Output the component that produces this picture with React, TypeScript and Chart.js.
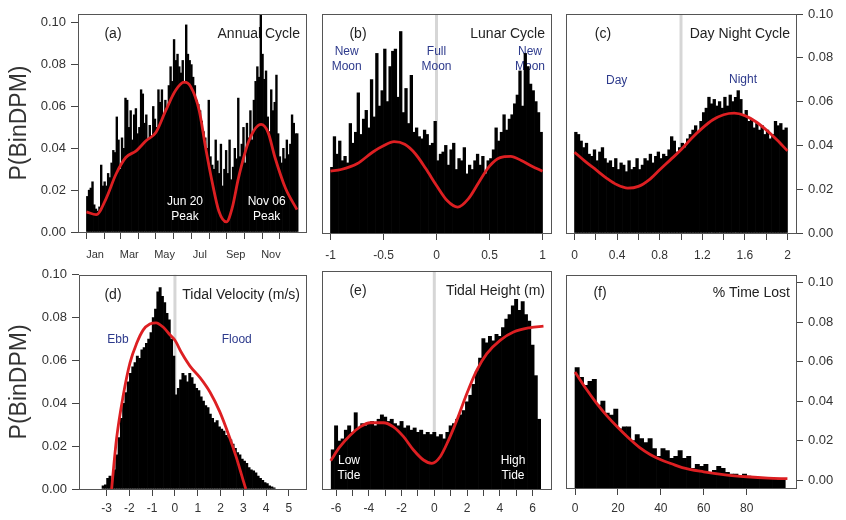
import React, { useEffect, useRef } from "react";
import { Chart, registerables } from "chart.js";

Chart.register(...registerables);

const FONT = "'Liberation Sans', Arial, Helvetica, sans-serif";
const TEXT = "#333333";
const TITLE = "#222222";
const AXIS = "#444444";
const BOX = "#555555";
const RED = "#dd1f22";
const NAVY = "#2d3a8c";
const VLINE = "#d6d6d6";

// ---------- shared y axis ----------
const Y_TICKS = [0, 0.02, 0.04, 0.06, 0.08, 0.1];
const Y_TICK_LABELS = ["0.00", "0.02", "0.04", "0.06", "0.08", "0.10"];

// ---------- (a) Annual cycle (3-day bins, day of year) ----------
const A_BIN_START = 0;
const A_BIN_WIDTH = 3;
const A_BARS = [
  0.017, 0.020, 0.021, 0.024, 0.013, 0.011, 0.010, 0.012, 0.032, 0.022,
  0.024, 0.022, 0.028, 0.026, 0.033, 0.039, 0.038, 0.055, 0.044, 0.030,
  0.045, 0.040, 0.064, 0.063, 0.050, 0.058, 0.044, 0.056, 0.059, 0.047,
  0.050, 0.068, 0.066, 0.052, 0.056, 0.044, 0.051, 0.046, 0.060, 0.054,
  0.050, 0.068, 0.062, 0.068, 0.056, 0.063, 0.060, 0.070, 0.079, 0.072,
  0.092, 0.082, 0.085, 0.079, 0.076, 0.082, 0.071, 0.099, 0.085, 0.082,
  0.080, 0.074, 0.070, 0.063, 0.061, 0.058, 0.053, 0.048, 0.045, 0.040,
  0.063, 0.036, 0.032, 0.030, 0.044, 0.034, 0.028, 0.042, 0.022, 0.030,
  0.039, 0.028, 0.044, 0.025, 0.031, 0.040, 0.035, 0.064, 0.036, 0.042,
  0.050, 0.033, 0.052, 0.045, 0.058, 0.044, 0.063, 0.072, 0.079, 0.074,
  0.104, 0.085, 0.073, 0.077, 0.055, 0.048, 0.068, 0.058, 0.062, 0.075,
  0.047, 0.036, 0.033, 0.040, 0.035, 0.044, 0.037, 0.042, 0.056, 0.052,
  0.047, 0.047,
];
const A_CURVE_X = [0, 17, 34, 51, 68, 86, 103, 120, 137, 154, 169, 180, 195, 206, 217, 229, 242, 252, 263, 281, 302, 314, 326, 344, 364];
const A_CURVE_Y = [0.0096, 0.0083, 0.016, 0.0276, 0.0356, 0.0388, 0.0436, 0.0476, 0.058, 0.0676, 0.0716, 0.0696, 0.058, 0.0404, 0.0244, 0.0099, 0.0048, 0.0115, 0.026, 0.0436, 0.0514, 0.0476, 0.0356, 0.021, 0.0107];
const A_X_TICKS = [0, 31, 59, 90, 120, 151, 181, 212, 243, 273, 304, 334];
const A_X_LABEL_AT = [15, 74, 135, 196, 258, 319];
const A_X_LABELS = ["Jan", "Mar", "May", "Jul", "Sep", "Nov"];

// ---------- (b) Lunar cycle ----------
const B_BIN_START = -1;
const B_BIN_WIDTH = 0.025;
const B_BARS = [
  0.030, 0.044, 0.036, 0.042, 0.033, 0.035, 0.032, 0.050, 0.041, 0.046,
  0.064, 0.045, 0.052, 0.056, 0.048, 0.070, 0.053, 0.082, 0.058, 0.065,
  0.084, 0.060, 0.076, 0.083, 0.084, 0.062, 0.092, 0.055, 0.066, 0.050,
  0.072, 0.046, 0.048, 0.044, 0.043, 0.047, 0.045, 0.040, 0.041, 0.051,
  0.033, 0.036, 0.037, 0.040, 0.031, 0.038, 0.041, 0.029, 0.034, 0.033,
  0.039, 0.027, 0.031, 0.029, 0.033, 0.036, 0.031, 0.035, 0.027, 0.033,
  0.034, 0.038, 0.048, 0.042, 0.046, 0.054, 0.047, 0.052, 0.054, 0.059,
  0.063, 0.074, 0.058, 0.082, 0.076, 0.068, 0.065, 0.060, 0.055, 0.046,
];
const B_CURVE_X = [-1, -0.9, -0.75, -0.6, -0.5, -0.4, -0.3, -0.2, -0.1, 0, 0.1, 0.2, 0.3, 0.4, 0.5, 0.6, 0.7, 0.8, 0.9, 1];
const B_CURVE_Y = [0.0282, 0.029, 0.0316, 0.037, 0.0398, 0.0417, 0.0405, 0.0362, 0.0293, 0.0217, 0.0148, 0.0118, 0.0156, 0.0232, 0.0305, 0.0344, 0.035, 0.0331, 0.0305, 0.0282];
const B_X_TICKS = [-1, -0.5, 0, 0.5, 1];
const B_X_LABELS = ["-1", "-0.5", "0", "0.5", "1"];

// ---------- (c) Day night cycle ----------
const C_BIN_START = 0;
const C_BIN_WIDTH = 0.025;
const C_BARS = [
  0.046, 0.045, 0.042, 0.039, 0.041, 0.036, 0.035, 0.038, 0.033, 0.037,
  0.039, 0.034, 0.032, 0.033, 0.030, 0.034, 0.029, 0.032, 0.031, 0.028,
  0.033, 0.029, 0.030, 0.034, 0.029, 0.031, 0.034, 0.033, 0.036, 0.032,
  0.035, 0.037, 0.034, 0.036, 0.035, 0.038, 0.044, 0.042, 0.037, 0.039,
  0.041, 0.039, 0.043, 0.045, 0.047, 0.049, 0.046, 0.051, 0.055, 0.057,
  0.062, 0.059, 0.061, 0.058, 0.060, 0.057, 0.062, 0.058, 0.063, 0.060,
  0.062, 0.065, 0.061, 0.054, 0.056, 0.051, 0.052, 0.048, 0.050, 0.047,
  0.049, 0.045, 0.047, 0.043, 0.045, 0.051, 0.049, 0.050, 0.047, 0.048,
];
const C_CURVE_X = [0, 0.1, 0.2, 0.3, 0.4, 0.5, 0.6, 0.7, 0.8, 0.9, 1.0, 1.1, 1.2, 1.3, 1.4, 1.5, 1.6, 1.7, 1.8, 1.9, 2.0];
const C_CURVE_Y = [0.0369, 0.0327, 0.0289, 0.0251, 0.022, 0.0205, 0.0213, 0.0243, 0.0289, 0.0334, 0.038, 0.0433, 0.0479, 0.0517, 0.054, 0.0547, 0.0536, 0.0509, 0.0471, 0.0426, 0.0375];
const C_X_TICKS = [0, 0.2, 0.4, 0.6, 0.8, 1.0, 1.2, 1.4, 1.6, 1.8, 2.0];
const C_X_LABELS = ["0", "", "0.4", "", "0.8", "", "1.2", "", "1.6", "", "2"];

// ---------- (d) Tidal velocity ----------
const D_BIN_START = -3.2;
const D_BIN_WIDTH = 0.1;
const D_BARS = [
  0.0015, 0.002, 0.005, 0.006, 0.004, 0.009, 0.016, 0.024, 0.033, 0.040,
  0.045, 0.050, 0.054, 0.057, 0.059, 0.062, 0.061, 0.065, 0.066, 0.068,
  0.070, 0.073, 0.080, 0.084, 0.092, 0.094, 0.090, 0.087, 0.082, 0.079,
  0.070, 0.062, 0.044, 0.047, 0.051, 0.054, 0.053, 0.050, 0.054, 0.052,
  0.049, 0.047, 0.046, 0.043, 0.041, 0.039, 0.038, 0.035, 0.033, 0.031,
  0.032, 0.029, 0.028, 0.027, 0.025, 0.024, 0.023, 0.021, 0.019, 0.017,
  0.016, 0.014, 0.013, 0.012, 0.010, 0.009, 0.0085, 0.0075, 0.006, 0.005,
  0.004, 0.003, 0.0025, 0.0015, 0.001, 0.0005,
];
const D_CURVE_X = [-2.78, -2.56, -2.27, -1.97, -1.68, -1.39, -1.1, -0.83, -0.51, -0.22, 0, 0.29, 0.66, 1.1, 1.54, 1.97, 2.41, 2.7, 3.0, 3.11];
const D_CURVE_Y = [0, 0.0237, 0.0436, 0.059, 0.068, 0.0743, 0.077, 0.0776, 0.0755, 0.072, 0.0694, 0.0636, 0.0574, 0.052, 0.0452, 0.036, 0.0237, 0.0145, 0.0038, 0];
const D_X_TICKS = [-3, -2, -1, 0, 1, 2, 3, 4, 5];
const D_X_LABELS = ["-3", "-2", "-1", "0", "1", "2", "3", "4", "5"];

// ---------- (e) Tidal height ----------
const E_BIN_START = -6.3;
const E_BIN_WIDTH = 0.2;
const E_BARS = [
  0.018, 0.029, 0.022, 0.023, 0.027, 0.029, 0.026, 0.035, 0.028, 0.030,
  0.029, 0.030, 0.031, 0.029, 0.032, 0.034, 0.033, 0.031, 0.032, 0.030,
  0.029, 0.031, 0.028, 0.029, 0.027, 0.028, 0.026, 0.027, 0.025, 0.026,
  0.025, 0.026, 0.024, 0.025, 0.023, 0.026, 0.029, 0.030, 0.032, 0.034,
  0.036, 0.040, 0.043, 0.048, 0.054, 0.060, 0.069, 0.067, 0.070, 0.068,
  0.071, 0.070, 0.074, 0.078, 0.080, 0.084, 0.087, 0.082, 0.086, 0.080,
  0.077, 0.066, 0.052, 0.032,
];
const E_CURVE_X = [-6.33, -5.76, -5.14, -4.53, -3.92, -3.1, -2.5, -1.88, -1.27, -0.66, -0.15, 0.36, 0.87, 1.38, 1.99, 2.6, 3.21, 4.02, 4.84, 5.86, 6.67];
const E_CURVE_Y = [0.013, 0.0194, 0.0247, 0.0285, 0.0304, 0.0304, 0.0285, 0.024, 0.0179, 0.0133, 0.0118, 0.0148, 0.0224, 0.0316, 0.0438, 0.0545, 0.0621, 0.0682, 0.072, 0.074, 0.0747];
const E_X_TICKS = [-6, -5, -4, -3, -2, -1, 0, 1, 2, 3, 4, 5, 6];
const E_X_LABELS = ["-6", "", "-4", "", "-2", "", "0", "", "2", "", "4", "", "6"];

// ---------- (f) % time lost ----------
const F_BIN_START = 0;
const F_BIN_WIDTH = 2;
const F_BARS = [
  0.057, 0.052, 0.048, 0.050, 0.051, 0.038, 0.040, 0.034, 0.033, 0.036,
  0.026, 0.027, 0.027, 0.020, 0.023, 0.021, 0.019, 0.021, 0.016, 0.012,
  0.016, 0.015, 0.011, 0.012, 0.015, 0.011, 0.012, 0.006, 0.008, 0.007,
  0.008, 0.004, 0.005, 0.007, 0.006, 0.004, 0.003, 0.003, 0.002, 0.003,
  0.002, 0.001, 0.0012, 0.0008, 0.0006, 0.0008, 0.0004, 0.0003, 0.0002,
];
const F_CURVE_X = [0, 5, 10, 15, 20, 25, 30, 35, 40, 45, 50, 60, 70, 80, 90, 99];
const F_CURVE_Y = [0.0548, 0.0465, 0.039, 0.0324, 0.0266, 0.0213, 0.0166, 0.013, 0.0103, 0.0083, 0.0063, 0.0042, 0.0027, 0.0017, 0.001, 0.0007];
const F_X_TICKS = [0, 20, 40, 60, 80];
const F_X_LABELS = ["0", "20", "40", "60", "80"];

type Note = { lines: string[]; x: number; y: number; color: string; front?: boolean };

type PanelSpec = {
  key: string;
  left: number; top: number; w: number; h: number;
  padding: { left: number; top: number; right: number; bottom: number };
  yAxis: "left" | "right" | "none";
  yAxisWidth: number;
  yTitle?: string;
  yMin: number; yMax: number;
  xMin: number; xMax: number;
  xTicks: number[]; xTickLabels: string[];
  xLabelAt?: number[]; xLabelText?: string[];
  xAxisHeight: number; xLabelPad: number; xFontSize: number;
  binStart: number; binWidth: number; bars: number[];
  curveX: number[]; curveY: number[];
  vline?: number;
  tag: string; tagDx: number; title: string; titleDy: number;
  notes: Note[];
};

function drawNotes(ctx: CanvasRenderingContext2D, xs: any, ys: any, notes: Note[]) {
  ctx.font = `12px ${FONT}`;
  ctx.textAlign = "center";
  ctx.textBaseline = "middle";
  const lh = 15;
  for (const n of notes) {
    const cx = xs.getPixelForValue(n.x);
    const cy = ys.getPixelForValue(n.y);
    ctx.fillStyle = n.color;
    const y0 = cy - ((n.lines.length - 1) * lh) / 2;
    n.lines.forEach((t, i) => ctx.fillText(t, cx, y0 + i * lh));
  }
}

function makeDecor(s: PanelSpec) {
  return {
    id: "decor_" + s.key,
    beforeDatasetsDraw(chart: any) {
      const { ctx, chartArea: ca } = chart;
      const xs = chart.scales.x;
      const ys = chart.scales.y;
      ctx.save();
      if (s.vline !== undefined) {
        const px = xs.getPixelForValue(s.vline);
        ctx.strokeStyle = VLINE;
        ctx.lineWidth = 3;
        ctx.beginPath();
        ctx.moveTo(px, ca.top);
        ctx.lineTo(px, ca.bottom);
        ctx.stroke();
      }
      ctx.fillStyle = TITLE;
      ctx.font = `14px ${FONT}`;
      ctx.textBaseline = "middle";
      ctx.textAlign = "center";
      ctx.fillText(s.tag, ca.left + s.tagDx, ca.top + s.titleDy);
      ctx.textAlign = "right";
      ctx.fillText(s.title, ca.right - 6, ca.top + s.titleDy);
      drawNotes(ctx, xs, ys, s.notes.filter((n) => !n.front));
      ctx.restore();
    },
    afterDatasetsDraw(chart: any) {
      const { ctx, chartArea: ca } = chart;
      ctx.save();
      drawNotes(ctx, chart.scales.x, chart.scales.y, s.notes.filter((n) => n.front));
      ctx.strokeStyle = BOX;
      ctx.lineWidth = 1;
      ctx.strokeRect(Math.round(ca.left) + 0.5, Math.round(ca.top) + 0.5, Math.round(ca.right - ca.left), Math.round(ca.bottom - ca.top));
      ctx.restore();
    },
  };
}

function buildConfig(s: PanelSpec): any {
  const barData = s.bars.map((v, i) => ({ x: s.binStart + s.binWidth * (i + 0.5), y: v }));
  const curveData = s.curveX.map((x, i) => ({ x, y: s.curveY[i] }));
  const tickFont = { family: FONT, size: s.xFontSize };
  const hasLabelAxis = !!s.xLabelAt;
  const scales: any = {
    x: {
      type: "linear",
      position: "bottom",
      min: s.xMin,
      max: s.xMax,
      offset: false,
      weight: 0,
      grid: { display: true, drawOnChartArea: false, drawTicks: true, tickLength: 7, color: AXIS, lineWidth: 1, offset: false },
      border: { display: false },
      ticks: {
        display: !hasLabelAxis,
        autoSkip: false,
        maxRotation: 0,
        minRotation: 0,
        padding: s.xLabelPad,
        color: TEXT,
        font: tickFont,
        callback: (_v: any, i: number) => s.xTickLabels[i] ?? "",
      },
      afterBuildTicks: (sc: any) => {
        sc.ticks = s.xTicks.map((v) => ({ value: v }));
      },
      afterFit: (sc: any) => {
        sc.height = hasLabelAxis ? 7 : s.xAxisHeight;
      },
    },
  };
  if (hasLabelAxis) {
    scales.xl = {
      type: "linear",
      axis: "x",
      position: "bottom",
      min: s.xMin,
      max: s.xMax,
      offset: false,
      weight: 1,
      grid: { display: false, drawTicks: false, drawOnChartArea: false, offset: false },
      border: { display: false },
      ticks: {
        autoSkip: false,
        maxRotation: 0,
        minRotation: 0,
        padding: s.xLabelPad,
        color: TEXT,
        font: tickFont,
        callback: (_v: any, i: number) => (s.xLabelText as string[])[i] ?? "",
      },
      afterBuildTicks: (sc: any) => {
        sc.ticks = (s.xLabelAt as number[]).map((v) => ({ value: v }));
      },
      afterFit: (sc: any) => {
        sc.height = s.xAxisHeight - 7;
      },
    };
  }
  if (s.yAxis === "none") {
    scales.y = { type: "linear", display: false, min: s.yMin, max: s.yMax };
  } else {
    scales.y = {
      type: "linear",
      position: s.yAxis,
      min: s.yMin,
      max: s.yMax,
      grid: { drawOnChartArea: false, drawTicks: true, tickLength: 7, color: AXIS },
      border: { display: false },
      ticks: {
        autoSkip: false,
        padding: 5,
        color: TEXT,
        font: { family: FONT, size: 13 },
        callback: (_v: any, i: number) => Y_TICK_LABELS[i] ?? "",
      },
      afterBuildTicks: (sc: any) => {
        sc.ticks = Y_TICKS.map((v) => ({ value: v }));
      },
      afterFit: (sc: any) => {
        sc.width = s.yAxisWidth;
      },
      title: s.yTitle
        ? { display: true, text: s.yTitle, color: TEXT, font: { family: FONT, size: 23 }, padding: { top: 6, bottom: 0 } }
        : { display: false },
    };
  }
  return {
    type: "bar",
    data: {
      datasets: [
        {
          type: "line",
          data: curveData,
          borderColor: RED,
          borderWidth: 2.8,
          pointRadius: 0,
          fill: false,
          cubicInterpolationMode: "monotone",
          order: 0,
        },
        {
          type: "bar",
          data: barData,
          backgroundColor: "#000000",
          borderWidth: 0,
          barPercentage: 1,
          categoryPercentage: 1,
          base: s.yMin,
          order: 1,
        },
      ],
    },
    options: {
      responsive: false,
      animation: false,
      devicePixelRatio: 1,
      events: [],
      layout: { padding: s.padding },
      plugins: { legend: { display: false }, tooltip: { enabled: false } },
      scales,
    },
    plugins: [makeDecor(s)],
  };
}

const PANELS: PanelSpec[] = [
  {
    key: "a", left: 0, top: 0, w: 316, h: 270,
    padding: { left: 0, top: 14, right: 10, bottom: 0 },
    yAxis: "left", yAxisWidth: 78, yTitle: "P(BinDPM)",
    yMin: 0, yMax: 0.1042, xMin: -14.6, xMax: 379.6,
    xTicks: A_X_TICKS, xTickLabels: [], xLabelAt: A_X_LABEL_AT, xLabelText: A_X_LABELS,
    xAxisHeight: 38, xLabelPad: 9, xFontSize: 11,
    binStart: A_BIN_START, binWidth: A_BIN_WIDTH, bars: A_BARS,
    curveX: A_CURVE_X, curveY: A_CURVE_Y,
    tag: "(a)", tagDx: 35, title: "Annual Cycle", titleDy: 20,
    notes: [
      { lines: ["Jun 20", "Peak"], x: 170.4, y: 0.0108, color: "#ffffff", front: true },
      { lines: ["Nov 06", "Peak"], x: 311.6, y: 0.0108, color: "#ffffff", front: true },
    ],
  },
  {
    key: "b", left: 316, top: 0, w: 240, h: 270,
    padding: { left: 6, top: 14, right: 5, bottom: 0 },
    yAxis: "none", yAxisWidth: 0,
    yMin: 0, yMax: 0.1, xMin: -1.08, xMax: 1.08,
    xTicks: B_X_TICKS, xTickLabels: B_X_LABELS,
    xAxisHeight: 37, xLabelPad: 8, xFontSize: 12,
    binStart: B_BIN_START, binWidth: B_BIN_WIDTH, bars: B_BARS,
    curveX: B_CURVE_X, curveY: B_CURVE_Y, vline: 0,
    tag: "(b)", tagDx: 36, title: "Lunar Cycle", titleDy: 20,
    notes: [
      { lines: ["New", "Moon"], x: -0.847, y: 0.0794, color: NAVY },
      { lines: ["Full", "Moon"], x: 0, y: 0.0794, color: NAVY },
      { lines: ["New", "Moon"], x: 0.882, y: 0.0794, color: NAVY },
    ],
  },
  {
    key: "c", left: 556, top: 0, w: 290, h: 270,
    padding: { left: 10, top: 14, right: 0, bottom: 0 },
    yAxis: "right", yAxisWidth: 50,
    yMin: 0, yMax: 0.1, xMin: -0.08, xMax: 2.08,
    xTicks: C_X_TICKS, xTickLabels: C_X_LABELS,
    xAxisHeight: 37, xLabelPad: 8, xFontSize: 12,
    binStart: C_BIN_START, binWidth: C_BIN_WIDTH, bars: C_BARS,
    curveX: C_CURVE_X, curveY: C_CURVE_Y, vline: 1,
    tag: "(c)", tagDx: 37, title: "Day Night Cycle", titleDy: 20,
    notes: [
      { lines: ["Day"], x: 0.396, y: 0.0695, color: NAVY },
      { lines: ["Night"], x: 1.582, y: 0.0699, color: NAVY },
    ],
  },
  {
    key: "d", left: 0, top: 262, w: 316, h: 258,
    padding: { left: 0, top: 9, right: 10, bottom: 0 },
    yAxis: "left", yAxisWidth: 79, yTitle: "P(BinDPM)",
    yMin: 0, yMax: 0.1, xMin: -4.21, xMax: 5.75,
    xTicks: D_X_TICKS, xTickLabels: D_X_LABELS,
    xAxisHeight: 31, xLabelPad: 5, xFontSize: 12,
    binStart: D_BIN_START, binWidth: D_BIN_WIDTH, bars: D_BARS,
    curveX: D_CURVE_X, curveY: D_CURVE_Y, vline: 0,
    tag: "(d)", tagDx: 34, title: "Tidal Velocity (m/s)", titleDy: 20,
    notes: [
      { lines: ["Ebb"], x: -2.5, y: 0.0697, color: NAVY },
      { lines: ["Flood"], x: 2.71, y: 0.0697, color: NAVY },
    ],
  },
  {
    key: "e", left: 316, top: 262, w: 240, h: 258,
    padding: { left: 6, top: 9, right: 5, bottom: 0 },
    yAxis: "none", yAxisWidth: 0,
    yMin: 0, yMax: 0.1, xMin: -6.86, xMax: 7.13,
    xTicks: E_X_TICKS, xTickLabels: E_X_LABELS,
    xAxisHeight: 31, xLabelPad: 5, xFontSize: 12,
    binStart: E_BIN_START, binWidth: E_BIN_WIDTH, bars: E_BARS,
    curveX: E_CURVE_X, curveY: E_CURVE_Y, vline: 0,
    tag: "(e)", tagDx: 36, title: "Tidal Height (m)", titleDy: 20,
    notes: [
      { lines: ["Low", "Tide"], x: -5.21, y: 0.0095, color: "#ffffff", front: true },
      { lines: ["High", "Tide"], x: 4.81, y: 0.0095, color: "#ffffff", front: true },
    ],
  },
  {
    key: "f", left: 556, top: 262, w: 290, h: 258,
    padding: { left: 10, top: 9, right: 0, bottom: 0 },
    yAxis: "right", yAxisWidth: 50,
    yMin: -0.004, yMax: 0.104, xMin: -4.2, xMax: 103,
    xTicks: F_X_TICKS, xTickLabels: F_X_LABELS,
    xAxisHeight: 32, xLabelPad: 6, xFontSize: 12,
    binStart: F_BIN_START, binWidth: F_BIN_WIDTH, bars: F_BARS,
    curveX: F_CURVE_X, curveY: F_CURVE_Y,
    tag: "(f)", tagDx: 34, title: "% Time Lost", titleDy: 18,
    notes: [],
  },
];

function Panel({ spec }: { spec: PanelSpec }) {
  const ref = useRef<HTMLCanvasElement>(null);
  useEffect(() => {
    if (!ref.current) return;
    const chart = new Chart(ref.current, buildConfig(spec));
    return () => chart.destroy();
  }, [spec]);
  return (
    <canvas
      ref={ref}
      width={spec.w}
      height={spec.h}
      style={{ position: "absolute", left: spec.left, top: spec.top, width: spec.w, height: spec.h }}
    />
  );
}

export default function App() {
  return (
    <div style={{ position: "absolute", left: 0, top: 0, width: 846, height: 520, background: "#ffffff", overflow: "hidden" }}>
      {PANELS.map((p) => (
        <Panel key={p.key} spec={p} />
      ))}
    </div>
  );
}
